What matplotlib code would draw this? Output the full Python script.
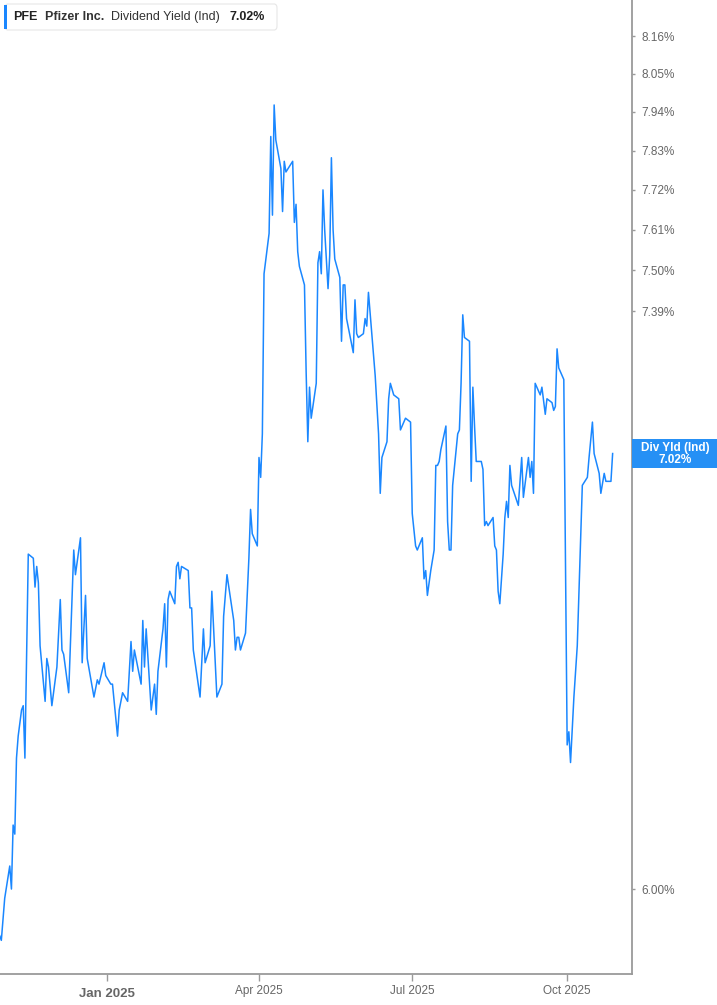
import matplotlib
matplotlib.use("Agg")
import matplotlib.pyplot as plt
import pandas as pd
from matplotlib.patches import FancyBboxPatch, Rectangle
from matplotlib.ticker import FixedLocator, NullLocator, FuncFormatter

plt.rcParams["font.family"] = ["Liberation Sans", "DejaVu Sans"]

# PFE dividend yield (indicated), %
dates = [
    "2024-10-29", "2024-10-30", "2024-11-01", "2024-11-04", "2024-11-05", "2024-11-06",
    "2024-11-07", "2024-11-08", "2024-11-09", "2024-11-11", "2024-11-12", "2024-11-13",
    "2024-11-15", "2024-11-18", "2024-11-19", "2024-11-20", "2024-11-21", "2024-11-22",
    "2024-11-25", "2024-11-26", "2024-11-27", "2024-11-29", "2024-12-02", "2024-12-04",
    "2024-12-05", "2024-12-06", "2024-12-09", "2024-12-12", "2024-12-13", "2024-12-16",
    "2024-12-17", "2024-12-19", "2024-12-20", "2024-12-24", "2024-12-26", "2024-12-27",
    "2024-12-30", "2024-12-31", "2025-01-03", "2025-01-04", "2025-01-05", "2025-01-07",
    "2025-01-08", "2025-01-10", "2025-01-13", "2025-01-15", "2025-01-16", "2025-01-17",
    "2025-01-21", "2025-01-22", "2025-01-23", "2025-01-24", "2025-01-27", "2025-01-29",
    "2025-01-30", "2025-01-31", "2025-02-03", "2025-02-04", "2025-02-05", "2025-02-06",
    "2025-02-07", "2025-02-10", "2025-02-11", "2025-02-12", "2025-02-13", "2025-02-14",
    "2025-02-18", "2025-02-19", "2025-02-20", "2025-02-21", "2025-02-25", "2025-02-27",
    "2025-02-28", "2025-03-03", "2025-03-04", "2025-03-07", "2025-03-10", "2025-03-11",
    "2025-03-13", "2025-03-17", "2025-03-18", "2025-03-19", "2025-03-20", "2025-03-21",
    "2025-03-24", "2025-03-26", "2025-03-27", "2025-03-28", "2025-03-31", "2025-04-01",
    "2025-04-02", "2025-04-03", "2025-04-04", "2025-04-07", "2025-04-08", "2025-04-09",
    "2025-04-10", "2025-04-11", "2025-04-14", "2025-04-15", "2025-04-16", "2025-04-17",
    "2025-04-21", "2025-04-22", "2025-04-23", "2025-04-24", "2025-04-25", "2025-04-28",
    "2025-04-29", "2025-04-30", "2025-05-01", "2025-05-02", "2025-05-05", "2025-05-06",
    "2025-05-07", "2025-05-08", "2025-05-09", "2025-05-10", "2025-05-12", "2025-05-13",
    "2025-05-14", "2025-05-15", "2025-05-16", "2025-05-19", "2025-05-20", "2025-05-21",
    "2025-05-22", "2025-05-23", "2025-05-27", "2025-05-28", "2025-05-29", "2025-05-30",
    "2025-06-02", "2025-06-03", "2025-06-04", "2025-06-05", "2025-06-09", "2025-06-11",
    "2025-06-12", "2025-06-13", "2025-06-16", "2025-06-17", "2025-06-18", "2025-06-20",
    "2025-06-23", "2025-06-24", "2025-06-26", "2025-06-27", "2025-06-30", "2025-07-01",
    "2025-07-03", "2025-07-04", "2025-07-07", "2025-07-08", "2025-07-09", "2025-07-10",
    "2025-07-12", "2025-07-14", "2025-07-15", "2025-07-16", "2025-07-17", "2025-07-18",
    "2025-07-21", "2025-07-22", "2025-07-23", "2025-07-24", "2025-07-25", "2025-07-28",
    "2025-07-29", "2025-07-30", "2025-07-31", "2025-08-01", "2025-08-04", "2025-08-05",
    "2025-08-06", "2025-08-07", "2025-08-08", "2025-08-11", "2025-08-12", "2025-08-13",
    "2025-08-14", "2025-08-15", "2025-08-18", "2025-08-19", "2025-08-20", "2025-08-21",
    "2025-08-22", "2025-08-24", "2025-08-25", "2025-08-26", "2025-08-27", "2025-08-28",
    "2025-08-29", "2025-09-02", "2025-09-04", "2025-09-05", "2025-09-08", "2025-09-09",
    "2025-09-10", "2025-09-11", "2025-09-12", "2025-09-15", "2025-09-16", "2025-09-18",
    "2025-09-19", "2025-09-22", "2025-09-23", "2025-09-24", "2025-09-25", "2025-09-26",
    "2025-09-29", "2025-10-01", "2025-10-02", "2025-10-03", "2025-10-05", "2025-10-07",
    "2025-10-10", "2025-10-13", "2025-10-14", "2025-10-16", "2025-10-17", "2025-10-20",
    "2025-10-21", "2025-10-23", "2025-10-24", "2025-10-27", "2025-10-28",
]
yields = [
    5.90, 5.89, 5.98, 6.05, 6.00, 6.14,
    6.12, 6.29, 6.34, 6.40, 6.41, 6.29,
    6.77, 6.76, 6.69, 6.74, 6.70, 6.55,
    6.42, 6.52, 6.50, 6.41, 6.50, 6.66,
    6.54, 6.53, 6.44, 6.78, 6.72, 6.81,
    6.51, 6.67, 6.52, 6.43, 6.47, 6.46,
    6.51, 6.48, 6.46, 6.46, 6.42, 6.34,
    6.40, 6.44, 6.42, 6.56, 6.49, 6.54,
    6.46, 6.61, 6.50, 6.59, 6.40, 6.46,
    6.39, 6.49, 6.59, 6.65, 6.50, 6.66,
    6.68, 6.65, 6.74, 6.75, 6.71, 6.74,
    6.73, 6.64, 6.64, 6.54, 6.43, 6.59,
    6.51, 6.55, 6.68, 6.43, 6.46, 6.62,
    6.72, 6.61, 6.54, 6.57, 6.57, 6.54,
    6.58, 6.76, 6.88, 6.82, 6.79, 7.01,
    6.96, 7.07, 7.49, 7.60, 7.87, 7.65,
    7.96, 7.86, 7.78, 7.66, 7.80, 7.77,
    7.80, 7.63, 7.68, 7.55, 7.51, 7.46,
    7.23, 7.05, 7.19, 7.11, 7.20, 7.52,
    7.55, 7.49, 7.72, 7.61, 7.45, 7.54,
    7.81, 7.61, 7.53, 7.48, 7.31, 7.46,
    7.46, 7.37, 7.28, 7.42, 7.33, 7.32,
    7.33, 7.37, 7.35, 7.44, 7.22, 7.07,
    6.92, 7.01, 7.05, 7.16, 7.20, 7.17,
    7.16, 7.08, 7.10, 7.11, 7.10, 6.87,
    6.79, 6.78, 6.81, 6.71, 6.73, 6.67,
    6.73, 6.78, 6.99, 6.99, 7.00, 7.03,
    7.09, 6.85, 6.78, 6.78, 6.94, 7.07,
    7.08, 7.20, 7.38, 7.32, 7.31, 6.95,
    7.19, 7.09, 7.00, 7.00, 6.98, 6.84,
    6.85, 6.84, 6.86, 6.79, 6.78, 6.68,
    6.65, 6.77, 6.86, 6.90, 6.86, 6.99,
    6.94, 6.89, 7.01, 6.91, 7.01, 6.96,
    7.00, 6.92, 7.20, 7.17, 7.19, 7.12,
    7.16, 7.15, 7.13, 7.14, 7.29, 7.24,
    7.21, 6.32, 6.35, 6.28, 6.43, 6.55,
    6.94, 6.96, 7.01, 7.10, 7.02, 6.97,
    6.92, 6.97, 6.95, 6.95, 7.02,
]

ytick_vals = [6.00, 7.39, 7.50, 7.61, 7.72, 7.83, 7.94, 8.05, 8.16]
xtick_dates = ["2025-01-01", "2025-04-01", "2025-07-01", "2025-10-01"]
xtick_labels = ["Jan 2025", "Apr 2025", "Jul 2025", "Oct 2025"]
last_value = yields[-1]

W, H = 717, 1005
LINE = "#1a87ff"
BOX = "#2690f5"
GREY = "#9a9a9a"
TXT = "#666666"

fig = plt.figure(figsize=(W / 100, H / 100), dpi=100)
ax = fig.add_axes([0, 31 / H, 632 / W, 974 / H])

x = pd.to_datetime(dates)
ax.plot(x, yields, color=LINE, lw=1.1)

ax.set_yscale("log")
ax.set_ylim(5.819, 8.267)
ax.set_xlim(pd.Timestamp("2024-10-29 05:00"), pd.Timestamp("2025-11-08 12:00"))

ax.yaxis.tick_right()
ax.yaxis.set_major_locator(FixedLocator(ytick_vals))
ax.yaxis.set_minor_locator(NullLocator())
ax.yaxis.set_major_formatter(FuncFormatter(lambda v, p: "%.2f%%" % v))
ax.tick_params(axis="y", which="major", length=2, width=1, color=GREY, pad=5,
               labelsize=8.5, labelcolor=TXT)

ax.set_xticks(pd.to_datetime(xtick_dates))
ax.set_xticklabels(xtick_labels)
ax.tick_params(axis="x", length=5, width=1, color=GREY, pad=3, labelsize=8.5, labelcolor=TXT)
jan = ax.get_xticklabels()[0]
jan.set_fontweight("bold")
jan.set_fontsize(9.5)
jan.set_y(-0.003)

ax.spines["left"].set_visible(False)
ax.spines["top"].set_visible(False)
for s in ["right", "bottom"]:
    ax.spines[s].set_color(GREY)
    ax.spines[s].set_linewidth(1.3)


def fx(px):
    return px / W


def fy(py):
    return 1 - py / H


# header box
fig.patches.append(FancyBboxPatch((fx(5), fy(30)), fx(272), 26 / H,
                                  boxstyle="round,pad=0,rounding_size=0.004",
                                  transform=fig.transFigure, facecolor="white",
                                  edgecolor="#e6e6e6", lw=0.8, zorder=5))
fig.patches.append(Rectangle((fx(4), fy(29)), fx(3), 24 / H, transform=fig.transFigure,
                             facecolor=LINE, edgecolor="none", zorder=6))
hdr_y = fy(17)
fig.text(fx(13), hdr_y, "PFE", fontsize=9, fontweight="bold", color="#222222",
         va="center", zorder=7)
fig.text(fx(45), hdr_y, "Pfizer Inc.", fontsize=9, fontweight="bold", color="#333333",
         va="center", zorder=7)
fig.text(fx(111), hdr_y, "Dividend Yield (Ind)", fontsize=9, color="#333333",
         va="center", zorder=7)
fig.text(fx(229), hdr_y, "%.2f%%" % last_value, fontsize=9, fontweight="bold",
         color="#222222", va="center", zorder=7)

# last value tag
fig.patches.append(Rectangle((fx(632), fy(468)), fx(85), 29 / H, transform=fig.transFigure,
                             facecolor=BOX, edgecolor="none", zorder=6))
fig.text(fx(675), fy(448), "Div Yld (Ind)", fontsize=8.5, fontweight="bold", color="white",
         ha="center", va="center", zorder=7)
fig.text(fx(675), fy(460), "%.2f%%" % last_value, fontsize=8.5, fontweight="bold",
         color="white", ha="center", va="center", zorder=7)

fig.savefig("out.png", dpi=100)
